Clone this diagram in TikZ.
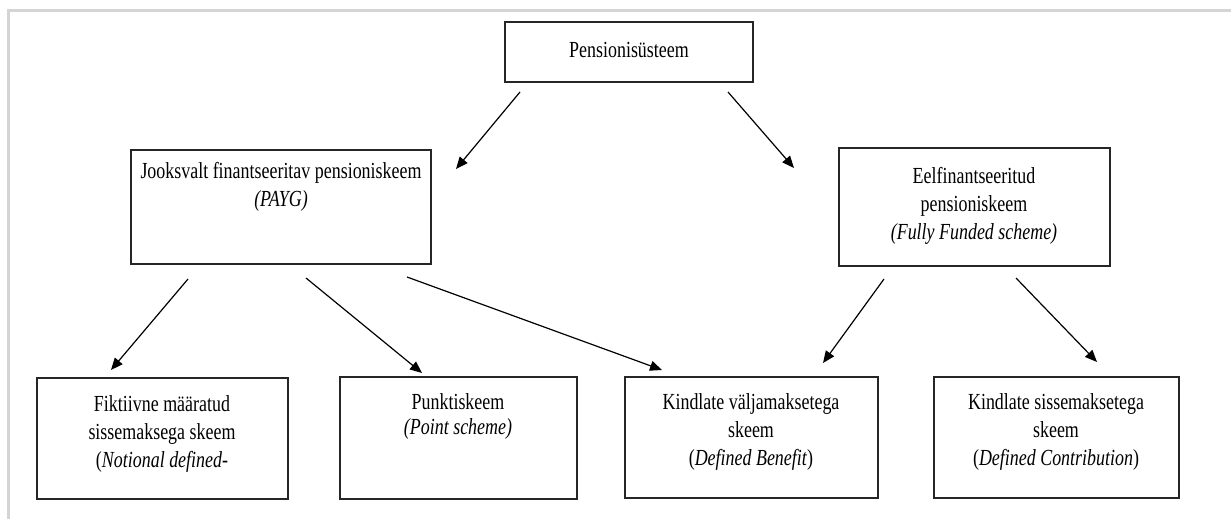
\documentclass[tikz,border=0pt]{standalone}
\usepackage{fontspec}
\setmainfont{Liberation Serif}[FakeStretch=0.78]
\usetikzlibrary{arrows.meta}
\tikzset{
  boxnode/.style={draw=black!85, line width=1.3pt, inner sep=0pt},
  txt/.style={inner sep=0pt, anchor=north, align=center, font=\fontsize{23}{28}\selectfont},
  conn/.style={line width=1.2pt, -{Triangle[length=12pt,width=10pt]}},
}
\begin{document}
\begin{tikzpicture}[x=1pt,y=-1pt]
\useasboundingbox (0,0) rectangle (1231,519);
\draw[black!17, line width=2.5pt] (8.5,519) -- (8.5,10.5) -- (1231,10.5);
% boxes
\node[boxnode, minimum width=248pt, minimum height=60pt] (top) at (629,52) {};
\node[boxnode, minimum width=300pt, minimum height=114pt] (payg) at (281,207) {};
\node[boxnode, minimum width=271pt, minimum height=118pt] (eel) at (974.5,207) {};
\node[boxnode, minimum width=251pt, minimum height=121pt] (fik) at (162.5,438.5) {};
\node[boxnode, minimum width=237pt, minimum height=122pt] (punkt) at (458.5,438) {};
\node[boxnode, minimum width=253pt, minimum height=121pt] (kv) at (751.5,437.5) {};
\node[boxnode, minimum width=245pt, minimum height=121pt] (ks) at (1056.5,437.5) {};
% texts
\node[txt] (ttop) at (629,42) {Pensionisüsteem};
\node[txt] (tpayg) at (281,162) {Jooksvalt finantseeritav pensioniskeem\\\textit{(PAYG)}};
\node[txt] (teel) at (974,167) {Eelfinantseeritud\\pensioniskeem\\\textit{(Fully Funded scheme)}};
\node[txt] (tfik) at (162,395) {Fiktiivne määratud\\sissemaksega skeem\\(\textit{Notional defined-}};
\node[txt, font=\fontsize{23}{25}\selectfont] (tpunkt) at (458,393) {Punktiskeem\\\textit{(Point scheme)}};
\node[txt] (tkv) at (751,393) {Kindlate väljamaksetega\\skeem\\(\textit{Defined Benefit})};
\node[txt] (tks) at (1056,393) {Kindlate sissemaksetega\\skeem\\(\textit{Defined Contribution})};
% connector ends
\coordinate (a1) at (520,92);  \coordinate (a1e) at (456,169);
\coordinate (a2) at (728,92);  \coordinate (a2e) at (794,168);
\coordinate (b1) at (188,279); \coordinate (b1e) at (111,370);
\coordinate (b2) at (306,278); \coordinate (b2e) at (422,373);
\coordinate (b3) at (407,277); \coordinate (b3e) at (662,370);
\coordinate (c1) at (884,279); \coordinate (c1e) at (823,363);
\coordinate (c2) at (1016,278); \coordinate (c2e) at (1097,362);
\draw[conn] (a1) -- (a1e);
\draw[conn] (a2) -- (a2e);
\draw[conn] (b1) -- (b1e);
\draw[conn] (b2) -- (b2e);
\draw[conn] (b3) -- (b3e);
\draw[conn] (c1) -- (c1e);
\draw[conn] (c2) -- (c2e);
\end{tikzpicture}
\end{document}
